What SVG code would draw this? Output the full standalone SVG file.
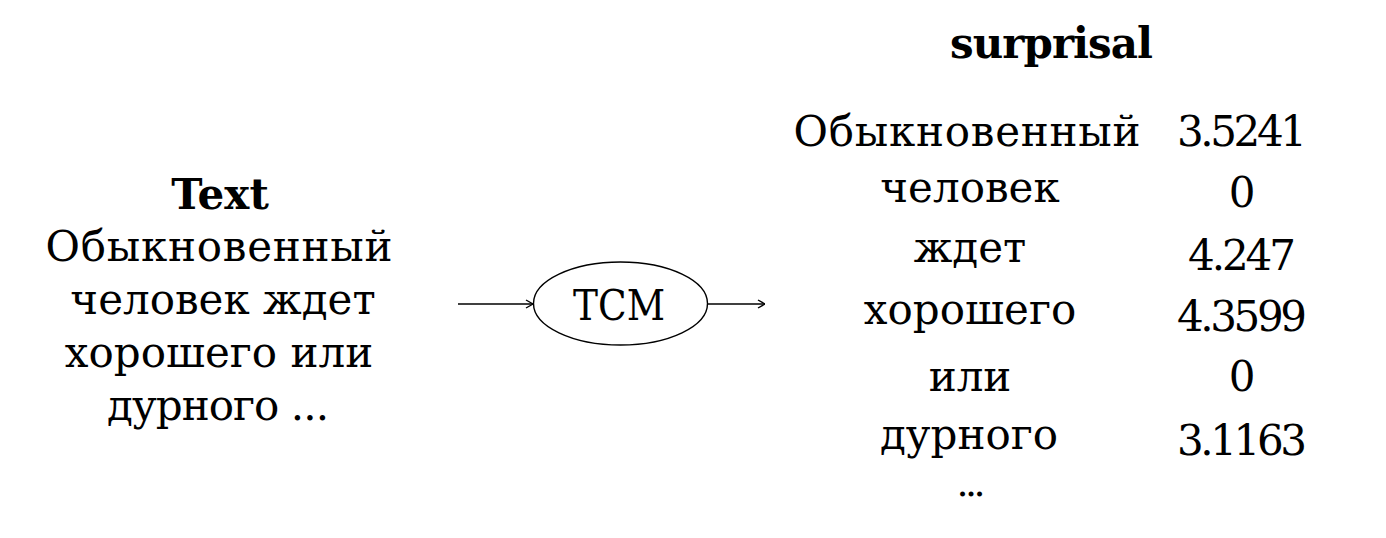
<svg xmlns="http://www.w3.org/2000/svg" width="1386" height="538" viewBox="0 0 1386 538">
<defs>
<style>
text{font-family:"DejaVu Serif","Liberation Serif",serif;font-size:42px;fill:#000;text-anchor:middle}
.b{font-weight:bold}
.edge{stroke:#000;stroke-width:1.4;fill:none}
</style>
<marker id="ah" viewBox="0 0 10 10" refX="10" refY="5" markerWidth="10" markerHeight="10" markerUnits="userSpaceOnUse" orient="auto">
<path d="M3,1 L10,5 L3,9" fill="none" stroke="#000" stroke-width="1.4"/>
</marker>
</defs>
<rect width="1386" height="538" fill="#fff"/>
<g id="input">
<text x="220" y="209" class="b">Text</text>
<text x="219" y="261" textLength="347">Обыкновенный</text>
<text x="223" y="314">человек ждет</text>
<text x="219" y="367">хорошего или</text>
<text x="218" y="420" textLength="222">дурного ...</text>
</g>
<g id="tcm">
<ellipse cx="620.5" cy="303.5" rx="87" ry="41.5" fill="#fff" stroke="#000" stroke-width="1.4"/>
<text x="619" y="320" textLength="92" lengthAdjust="spacingAndGlyphs">TCM</text>
</g>
<g id="output">
<text x="1051.5" y="58" class="b" textLength="203">surprisal</text>
<text x="967" y="146" textLength="347">Обыкновенный</text>
<text x="1242" y="146" textLength="130">3.5241</text>
<text x="970" y="202">человек</text>
<text x="1242" y="207">0</text>
<text x="970" y="262">ждет</text>
<text x="1242" y="270" textLength="108">4.247</text>
<text x="970" y="324">хорошего</text>
<text x="1242" y="331" textLength="130">4.3599</text>
<text x="970" y="391">или</text>
<text x="1242" y="391">0</text>
<text x="969" y="449">дурного</text>
<text x="1242" y="455" textLength="130">3.1163</text>
<text x="971" y="496" style="font-size:38px" textLength="29">...</text>
</g>
<g id="connectors">
<line class="edge" x1="458" y1="304" x2="533" y2="304" marker-end="url(#ah)"/>
<line class="edge" x1="708" y1="304" x2="765" y2="304" marker-end="url(#ah)"/>
</g>
</svg>
